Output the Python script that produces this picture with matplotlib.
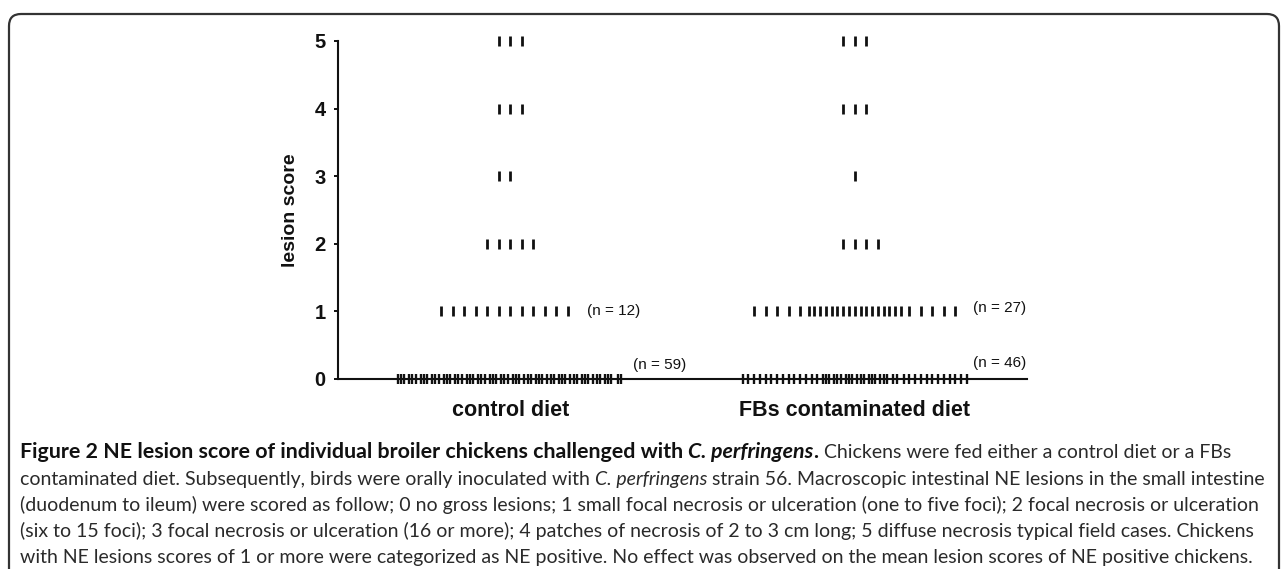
import numpy as np
import matplotlib
matplotlib.use("Agg")
import matplotlib.pyplot as plt
from matplotlib.patches import FancyBboxPatch
from matplotlib.transforms import IdentityTransform

# lesion scores and number of birds at each score
scores = [0, 1, 2, 3, 4, 5]
groups = ["control diet", "FBs contaminated diet"]
control_counts = [59, 12, 5, 2, 3, 3]
fbs_counts = [46, 27, 4, 1, 3, 3]

caption_lines = [
    [("Figure 2 NE lesion score of individual broiler chickens challenged with ", "bold", "normal"),
     ("C. perfringens", "bold", "italic"),
     (".", "bold", "normal"),
     (" Chickens were fed either a control diet or a FBs", "normal", "normal")],
    [("contaminated diet. Subsequently, birds were orally inoculated with ", "normal", "normal"),
     ("C. perfringens", "normal", "italic"),
     (" strain 56. Macroscopic intestinal NE lesions in the small intestine", "normal", "normal")],
    [("(duodenum to ileum) were scored as follow; 0 no gross lesions; 1 small focal necrosis or "
      "ulceration (one to five foci); 2 focal necrosis or ulceration", "normal", "normal")],
    [("(six to 15 foci); 3 focal necrosis or ulceration (16 or more); 4 patches of necrosis of 2 to "
      "3 cm long; 5 diffuse necrosis typical field cases. Chickens", "normal", "normal")],
    [("with NE lesions scores of 1 or more were categorized as NE positive. No effect was observed "
      "on the mean lesion scores of NE positive chickens.", "normal", "normal")],
]

W, H = 1282, 569
STEP = 0.0334          # horizontal slot of one mark (data units)
CLUSTER = 0.0090       # offset between marks stacked in one slot


def row_positions(n, center, lean=0.0, edge_left=0, edge_right=0,
                  edge_spacing=1.0, mid_spacing=1.0, per_col=1):
    """x positions for n marks in one score row, GraphPad style."""
    slots = []
    slots += [(1, edge_spacing)] * edge_left
    mid = n - edge_left - edge_right
    ncol = int(np.ceil(mid / per_col))
    for c in range(ncol):
        slots.append((min(per_col, mid - c * per_col), mid_spacing))
    slots += [(1, edge_spacing)] * edge_right

    xs, pos = [], 0.0
    for k, sp in slots:
        c = pos + sp * STEP / 2
        xs.extend(c + (np.arange(k) - (k - 1) / 2) * CLUSTER)
        pos += sp * STEP
    xs = np.array(xs) - pos / 2 + center
    if len(slots) % 2 == 0 and per_col == 1 and edge_left == 0:
        xs = xs + lean * STEP / 2
    return xs


fig = plt.figure(figsize=(W / 100, H / 100), dpi=100)
ax = fig.add_axes([338 / W, 1 - 379 / H, (1027 - 338) / W, (379 - 41) / H])

layouts = {
    (0, 0): dict(per_col=3),
    (1, 0): dict(edge_left=14, edge_right=12, edge_spacing=0.5, per_col=3),
    (1, 1): dict(edge_left=5, edge_right=5, edge_spacing=1.0, mid_spacing=0.5),
}
leans = [-1, 1]

for gi, counts in enumerate([control_counts, fbs_counts]):
    for s, n in zip(scores, counts):
        opts = layouts.get((gi, s), {})
        xs = row_positions(n, gi + 1, lean=leans[gi], **opts)
        mew = 1.7 if opts.get("per_col", 1) > 1 else 2.0
        ax.plot(xs, np.full(len(xs), s), ls="none", marker="|", ms=7.0,
                mew=mew, color="#111111", clip_on=False, zorder=3)

# n labels for scores 0 and 1
for gi, counts in enumerate([control_counts, fbs_counts]):
    for s in [1, 0]:
        if gi == 0:
            dx, y = (0.224, 1.0) if s == 1 else (0.355, 0.21)
        else:
            dx, y = (0.343, 1.05) if s == 1 else (0.343, 0.23)
        ax.text(gi + 1 + dx, y, f"(n = {counts[s]})", fontsize=11,
                family="Liberation Sans", va="center", ha="left", color="#111111")

ax.set_xlim(0.5, 2.5)
ax.set_ylim(0, 5)
ax.set_xticks([1, 2])
ax.set_xticklabels(groups, fontsize=15.5, fontweight="bold", family="Liberation Sans")
ax.set_yticks(scores)
ax.set_yticklabels([str(s) for s in scores], fontsize=14.5, fontweight="bold",
                   family="Liberation Sans")
ax.tick_params(axis="x", length=0, pad=15, colors="#111111")
ax.tick_params(axis="y", length=3, width=1.4, pad=6, direction="out", colors="#111111")
for side in ["top", "right"]:
    ax.spines[side].set_visible(False)
for side in ["left", "bottom"]:
    ax.spines[side].set_linewidth(1.5)
    ax.spines[side].set_color("#111111")
ax.set_ylabel("lesion score", fontsize=14, fontweight="bold", family="Liberation Sans",
              color="#111111")
ax.yaxis.set_label_coords(-0.057, 0.5)

# frame around figure + caption
frame = FancyBboxPatch((9, -40), 1270, 555 + 40, boxstyle="round,pad=0,rounding_size=12",
                       transform=IdentityTransform(), fill=False, lw=1.6,
                       edgecolor="#333333", clip_on=False)
fig.patches.append(frame)

# caption, placed piece by piece
renderer = fig.canvas.get_renderer()
cap_font = "Lato"


def text_width(s, size, weight, style):
    t = fig.text(0, 0, "|" + s + "|", fontsize=size, family=cap_font,
                 fontweight=weight, fontstyle=style, transform=IdentityTransform())
    t2 = fig.text(0, 0, "||", fontsize=size, family=cap_font,
                  fontweight=weight, fontstyle=style, transform=IdentityTransform())
    w = t.get_window_extent(renderer).width - t2.get_window_extent(renderer).width
    t.remove()
    t2.remove()
    return w


# fit the caption size so the last line spans the frame like the original
cap_size = 10 * 1232 / text_width(caption_lines[4][0][0], 10, "normal", "normal")
# the bold title runs wider in the original (up to x ~ 822)
bold_w = sum(text_width(s, cap_size, w, st) for s, w, st in caption_lines[0][:3])
bold_size = cap_size * 802 / bold_w

baselines = [458, 485, 511, 537, 563]
for pieces, yb in zip(caption_lines, baselines):
    x = 20
    for s, weight, style in pieces:
        size = bold_size if weight == "bold" else cap_size
        color = "#111111" if weight == "bold" else "#2a2a2a"
        fig.text(x, H - yb, s, fontsize=size, family=cap_font, fontweight=weight,
                 fontstyle=style, va="baseline", ha="left", color=color,
                 transform=IdentityTransform())
        x += text_width(s, size, weight, style)

fig.savefig("out.png", dpi=100)
